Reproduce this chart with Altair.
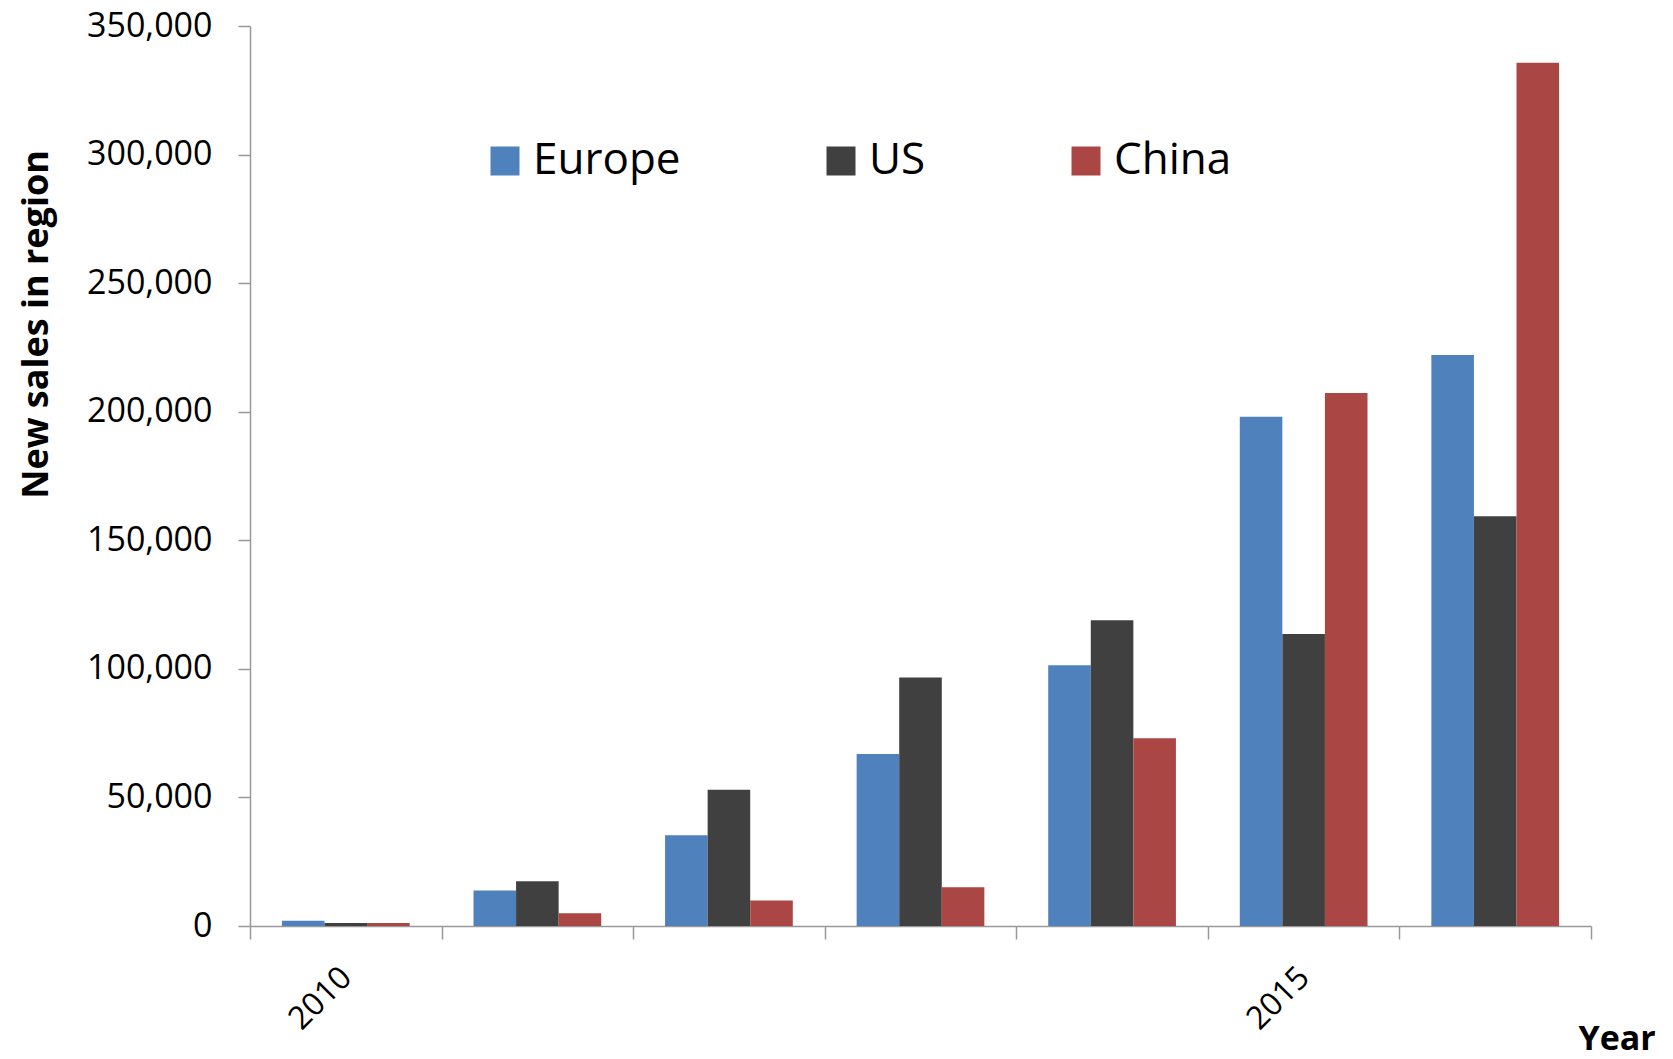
import altair as alt
import pandas as pd

years = ["2010", "2011", "2012", "2013", "2014", "2015", "2016"]
regions = ["Europe", "US", "China"]
europe = [2000, 13800, 35300, 66900, 101400, 198000, 222100]
us = [1200, 17400, 53000, 96600, 118900, 113600, 159300]
china = [1200, 5000, 9900, 15100, 73000, 207300, 335700]
colors = ["#4F81BD", "#404040", "#AA4643"]
y_ticks = [0, 50000, 100000, 150000, 200000, 250000, 300000, 350000]
shown_year_labels = ["2010", "2015"]

rows = []
for name, vals in zip(regions, [europe, us, china]):
    for yr, v in zip(years, vals):
        rows.append({"year": yr, "region": name, "sales": v})
df = pd.DataFrame(rows)

FONT = "Open Sans"
label_expr = " || ".join([f"datum.label == '{y}'" for y in shown_year_labels])

chart = alt.Chart(df).mark_bar().encode(
    x=alt.X(
        "year:O",
        sort=years,
        scale=alt.Scale(paddingInner=0, paddingOuter=0),
        axis=alt.Axis(
            title="Year",
            titleFont=FONT, titleFontSize=34, titleFontWeight="bold", titleColor="#000000",
            titleX=1328, titleY=123, titleAlign="left", titleBaseline="alphabetic",
            labelExpr=f"({label_expr}) ? datum.label : ''",
            labelAngle=-45, labelAlign="right", labelBaseline="middle",
            labelFont=FONT, labelFontSize=32, labelColor="#000000", labelPadding=33,
            tickBand="extent", tickSize=13, tickColor="#999999", tickWidth=1.5,
            domainColor="#999999", domainWidth=1.5, grid=False,
        ),
    ),
    xOffset=alt.XOffset(
        "region:N", sort=regions,
        scale=alt.Scale(domain=regions, paddingInner=0, paddingOuter=0.75),
    ),
    y=alt.Y(
        "sales:Q",
        scale=alt.Scale(domain=[0, 350000], nice=False),
        axis=alt.Axis(
            title="New sales in region",
            titleFont=FONT, titleFontSize=36, titleFontWeight="bold", titleColor="#000000",
            titleAngle=270, titleX=-203, titleY=298, titleAlign="center", titleBaseline="alphabetic",
            values=y_ticks, format=",d",
            labelFont=FONT, labelFontSize=34, labelColor="#000000", labelPadding=26,
            tickSize=12, tickColor="#999999", tickWidth=1.5,
            domainColor="#999999", domainWidth=1.5, grid=False,
        ),
    ),
    color=alt.Color(
        "region:N",
        sort=regions,
        scale=alt.Scale(domain=regions, range=colors),
        legend=alt.Legend(
            title=None, orient="none", legendX=233, legendY=113, direction="horizontal",
            symbolType="square", symbolSize=841, symbolStrokeWidth=0, symbolOpacity=1,
            labelFont=FONT, labelFontSize=44, labelColor="#000000", labelOffset=6,
            columnPadding=138, padding=0, labelLimit=400,
        ),
    ),
).properties(
    width=1341,
    height=900,
    autosize=alt.AutoSizeParams(type="none"),
    padding={"left": 242, "top": 18, "right": 74, "bottom": 125},
    background="#ffffff",
).configure_view(stroke=None)

chart.save("out.html", embed_options={"renderer": "svg", "actions": False})
